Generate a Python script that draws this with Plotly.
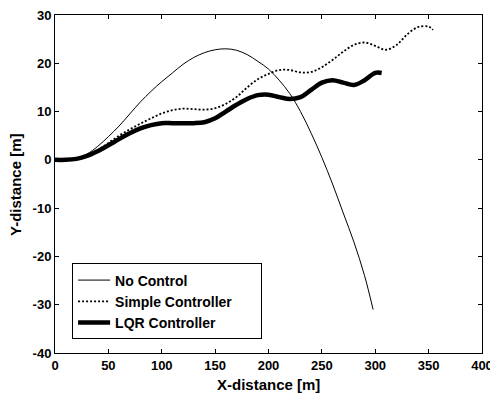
import plotly.graph_objects as go

x_none = [0, 10, 20, 30, 40, 50, 60, 70, 80, 90, 100, 110, 120, 130, 140, 150, 160, 170, 180, 190,
          200, 210, 220, 230, 240, 250, 260, 270, 280, 290, 298]
y_none = [0, 0, 0.3, 1.2, 2.8, 4.8, 7, 9.5, 12, 14.2, 16.2, 18, 19.8, 21.2, 22.2, 22.8, 23, 22.7, 21.8, 20.4,
          18.8, 16.5, 13.7, 10, 5.5, 0.5, -5, -11, -17, -24, -31]

x_simple = [0, 10, 20, 30, 40, 50, 60, 70, 80, 90, 100, 110, 120, 130, 140, 150, 160, 170, 180, 190,
            200, 210, 220, 230, 240, 250, 260, 270, 280, 290, 300, 310, 320, 330, 340, 350, 354]
y_simple = [0, 0, 0.2, 0.8, 2, 3.5, 5, 6.3, 7.5, 8.6, 9.6, 10.3, 10.6, 10.5, 10.4, 10.7, 11.6, 13, 15, 16.7,
            17.8, 18.6, 18.6, 18.1, 18.2, 19.2, 20.7, 22.4, 23.8, 24.3, 23.6, 22.8, 23.8, 26, 27.5, 27.6, 26.9]

x_lqr = [0, 10, 20, 30, 40, 50, 60, 70, 80, 90, 100, 110, 120, 130, 140, 150, 160, 170, 180, 190,
         200, 210, 220, 230, 240, 250, 260, 270, 280, 290, 300, 306]
y_lqr = [0, 0, 0.2, 0.8, 1.8, 3, 4.3, 5.5, 6.5, 7.2, 7.6, 7.6, 7.6, 7.6, 7.8, 8.6, 10, 11.4, 12.6, 13.4,
         13.5, 13, 12.6, 13, 14.5, 16, 16.5, 16, 15.5, 16.5, 18, 18]

x_ticks = [0, 50, 100, 150, 200, 250, 300, 350, 400]
y_ticks = [-40, -30, -20, -10, 0, 10, 20, 30]

pad = "\u00a0" * 6

fig = go.Figure()
fig.add_trace(go.Scatter(x=x_none, y=y_none, mode="lines", name="<b>No Control</b>" + pad,
                         line=dict(color="black", width=1), line_shape="spline"))
fig.add_trace(go.Scatter(x=x_simple, y=y_simple, mode="lines", name="<b>Simple Controller</b>" + pad,
                         line=dict(color="black", width=1.8, dash="2px,2px"), line_shape="spline"))
fig.add_trace(go.Scatter(x=x_lqr, y=y_lqr, mode="lines", name="<b>LQR Controller</b>" + pad,
                         line=dict(color="black", width=4.5), line_shape="spline"))

tickfont = dict(family="Liberation Sans Narrow, Arial Narrow, Liberation Sans, Arial", size=13, color="black")
axis_common = dict(showgrid=False, zeroline=False, showline=True, linecolor="black", linewidth=1,
                   mirror="ticks", ticks="inside", ticklen=4, tickcolor="black", tickfont=tickfont,
                   ticklabeloverflow="allow", automargin=False)

fig.update_layout(
    width=490, height=394,
    margin=dict(l=55, r=8, t=15, b=41),
    paper_bgcolor="white", plot_bgcolor="white",
    font=dict(family="Liberation Sans, Arial", color="black"),
    xaxis=dict(range=[0, 400], tickvals=x_ticks, ticktext=[f"<b>{v}</b>" for v in x_ticks], **axis_common),
    yaxis=dict(range=[-40, 30], tickvals=y_ticks, ticktext=[f"<b>{v}</b>" for v in y_ticks], **axis_common),
    legend=dict(x=0.04, y=0.04, xanchor="left", yanchor="bottom",
                bgcolor="white", bordercolor="black", borderwidth=1,
                font=dict(family="Liberation Sans, Arial", size=14, color="black"),
                itemwidth=32, tracegroupgap=0),
    showlegend=True,
    annotations=[
        dict(text="<b>X-distance [m]</b>", xref="paper", yref="paper", x=0.5, y=-0.0932,
             xanchor="center", yanchor="middle", showarrow=False, font=dict(size=15)),
        dict(text="<b>Y-distance [m]</b>", xref="paper", yref="paper", x=-0.0937, y=0.5,
             xanchor="center", yanchor="middle", textangle=-90, showarrow=False, font=dict(size=15)),
    ],
)

fig.write_html("out.html", config={"displayModeBar": False},
               post_script="document.body.style.margin='0';document.body.style.overflow='hidden';")
